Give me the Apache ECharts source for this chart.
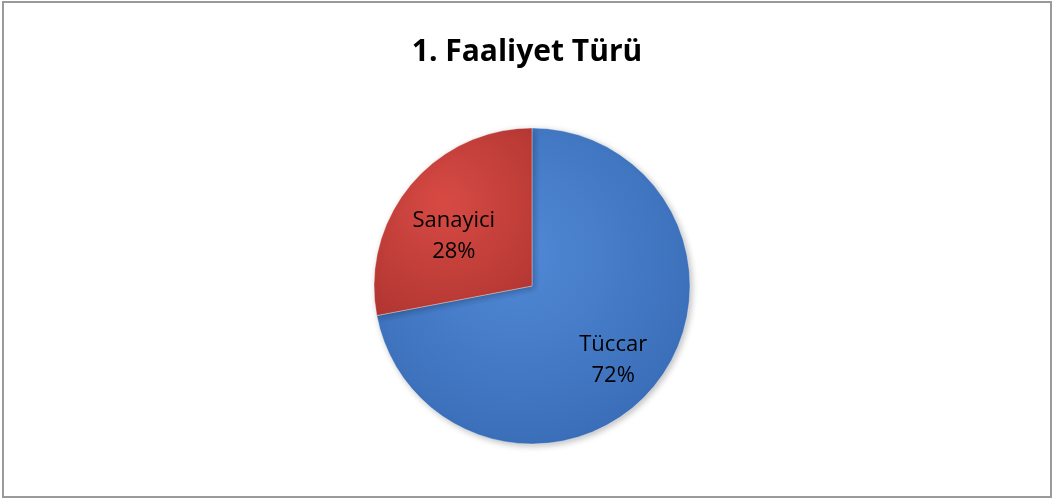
<!DOCTYPE html>
<html>
<head>
    <meta charset="utf-8">
    <script src="https://cdn.jsdelivr.net/npm/echarts@6/dist/echarts.min.js"></script>
    <style>
        html, body { margin: 0; padding: 0; background: #fff; }
        #container { width: 1054px; height: 499px; }
    </style>
</head>
<body>
    <div id="container"></div>
    <script type="text/javascript">
        var categories = ['Tüccar', 'Sanayici'];
        var shares = [72, 28];
        var sliceColors = [
            ['#5189d6', '#3466b0'],
            ['#d74a44', '#b23632']
        ];
        // nudges so labels sit where the original puts them
        var labelNudges = [[18, 22], [-15, 3]];

        var myChart = echarts.init(document.getElementById('container'));

        var pieData = [];
        for (var i = 0; i < categories.length; i++) {
            pieData.push({
                name: categories[i],
                value: shares[i],
                label: { offset: labelNudges[i] },
                itemStyle: {
                    color: new echarts.graphic.RadialGradient(0.45, 0.4, 0.8, [
                        { offset: 0, color: sliceColors[i][0] },
                        { offset: 1, color: sliceColors[i][1] }
                    ])
                }
            });
        }

        var option = {
            backgroundColor: '#ffffff',
            animation: false,
            title: {
                text: '1. Faaliyet Türü',
                left: 'center',
                top: 32,
                textStyle: {
                    fontFamily: 'Open Sans',
                    fontWeight: 'bold',
                    fontSize: 30,
                    color: '#000'
                }
            },
            graphic: [{
                type: 'rect',
                shape: { x: 3, y: 2, width: 1048, height: 495 },
                style: { fill: 'none', stroke: '#9a9a9a', lineWidth: 2 },
                silent: true
            }],
            series: [{
                type: 'pie',
                center: [532, 286],
                radius: 158,
                startAngle: 90,
                clockwise: true,
                data: pieData,
                itemStyle: {
                    borderColor: 'rgba(255,255,255,0.35)',
                    borderWidth: 1,
                    shadowBlur: 6,
                    shadowColor: 'rgba(0,0,0,0.25)',
                    shadowOffsetX: 2,
                    shadowOffsetY: 2
                },
                label: {
                    show: true,
                    position: 'inside',
                    formatter: function (p) { return p.name + '\n' + p.value + '%'; },
                    fontFamily: 'Open Sans',
                    fontSize: 22,
                    lineHeight: 31,
                    color: '#000'
                },
                labelLine: { show: false },
                emphasis: { disabled: true }
            }]
        };

        myChart.setOption(option);
    </script>
</body>
</html>
